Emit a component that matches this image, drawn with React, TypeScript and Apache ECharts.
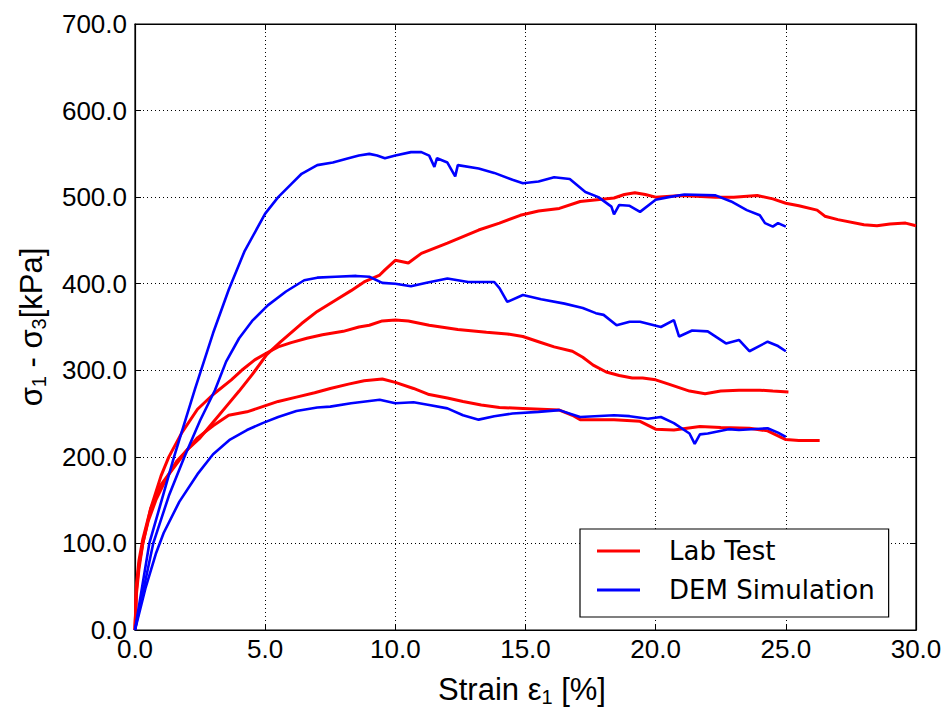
import React, { useEffect, useRef } from "react";
import * as echarts from "echarts";

const xTicks = [0, 5, 10, 15, 20, 25, 30];
const yTicks = [0, 100, 200, 300, 400, 500, 600, 700];
const seriesNames = ["Lab Test", "DEM Simulation"];

// Lab test curves [strain %, deviator stress kPa]
const labHigh: [number, number][] = [
  [0, 0], [0.05, 45], [0.15, 75], [0.3, 100], [0.5, 125], [0.8, 150], [1.2, 175], [1.6, 195],
  [2.0, 208], [2.5, 222], [3.0, 240], [3.5, 258], [4.0, 276], [4.5, 295], [5.06, 318], [5.6, 333],
  [6.4, 354], [7.0, 368], [7.7, 381], [8.3, 392], [8.8, 402], [9.4, 410], [9.6, 416],
  [10.0, 427], [10.5, 424], [11.0, 435], [12.0, 447], [13.2, 462], [14.0, 470], [14.8, 479],
  [15.5, 484], [16.3, 487], [17.1, 495], [18.4, 499], [18.8, 503], [19.2, 505], [19.6, 503],
  [20.0, 500], [21.0, 502], [22.3, 500], [23.0, 500], [23.9, 502], [24.5, 498], [25.0, 493],
  [25.5, 490], [26.2, 485], [26.5, 478], [27.0, 474], [28.0, 468], [28.5, 467], [29.0, 469],
  [29.6, 470], [30.0, 467],
];
const labMid: [number, number][] = [
  [0, 0], [0.05, 50], [0.15, 80], [0.3, 105], [0.6, 140], [1.0, 178], [1.3, 200], [1.8, 228],
  [2.4, 255], [3.0, 272], [3.7, 289], [4.1, 300], [4.6, 312], [5.06, 320], [5.5, 327], [6.0, 332],
  [6.6, 337], [7.2, 341], [8.0, 345], [8.6, 350], [9.0, 352], [9.5, 357], [10.0, 358], [10.5, 357],
  [11.3, 352], [12.4, 347], [13.5, 344], [14.3, 342], [14.9, 339], [15.5, 333], [16.1, 327],
  [16.8, 322], [17.2, 315], [17.6, 306], [18.1, 298], [18.6, 294], [19.1, 291], [19.5, 291],
  [20.0, 289], [20.5, 284], [21.3, 276], [21.9, 273], [22.5, 276], [23.2, 277], [24.0, 277],
  [24.5, 276], [25.1, 275],
];
const labLow: [number, number][] = [
  [0, 0], [0.05, 40], [0.15, 70], [0.3, 100], [0.6, 140], [1.0, 168], [1.5, 188], [2.0, 208],
  [2.4, 222], [3.0, 236], [3.6, 248], [4.3, 252], [4.9, 258], [5.5, 264], [6.2, 269], [6.9, 274],
  [7.5, 279], [8.2, 284], [8.8, 288], [9.5, 290], [10.0, 286], [10.7, 279], [11.3, 272], [12.0, 268],
  [12.6, 264], [13.3, 260], [14.0, 257], [14.9, 256], [15.6, 255], [16.3, 254], [16.8, 248],
  [17.1, 243], [18.4, 243], [19.4, 241], [20.0, 232], [20.7, 231], [21.7, 235], [22.5, 234],
  [23.6, 233], [24.3, 230], [25.0, 220], [25.5, 219], [26.3, 219],
];

// DEM simulation curves [strain %, deviator stress kPa]
const demHigh: [number, number][] = [
  [0, 0], [0.55, 100], [1.5, 200], [2.3, 278], [3.0, 343], [3.6, 393], [4.2, 437],
  [5.0, 481], [5.5, 500], [6.0, 515], [6.4, 527], [7.0, 537], [7.6, 540], [8.2, 545], [8.6, 548],
  [9.0, 550], [9.3, 548], [9.6, 545], [10.0, 548], [10.6, 552], [11.0, 552], [11.3, 548],
  [11.5, 535], [11.6, 545], [12.0, 540], [12.3, 524], [12.4, 537], [13.2, 533], [13.8, 528],
  [14.5, 520], [14.9, 516], [15.5, 518], [16.1, 523], [16.7, 521], [17.3, 506], [17.8, 500],
  [18.3, 489], [18.4, 480], [18.6, 491], [19.0, 490], [19.4, 483], [20.0, 497], [20.5, 500],
  [21.1, 503], [22.3, 502], [22.9, 495], [23.5, 485], [24.0, 479], [24.2, 470], [24.5, 466],
  [24.7, 470], [25.0, 466],
];
const demMid: [number, number][] = [
  [0, 0], [0.7, 100], [1.3, 155], [1.9, 200], [2.5, 242], [3.07, 277], [3.5, 310], [4.0, 337],
  [4.5, 357], [5.1, 375], [5.8, 391], [6.5, 404], [7.0, 407], [7.7, 408], [8.5, 409], [9.0, 408],
  [9.5, 401], [10.0, 400], [10.6, 397], [11.2, 401], [12.0, 406], [12.8, 402], [13.8, 402],
  [14.0, 395], [14.3, 379], [14.9, 387], [15.6, 382], [16.5, 377], [17.2, 372], [17.7, 366],
  [18.0, 364], [18.5, 352], [19.0, 356], [19.4, 356], [20.2, 350], [20.7, 358], [20.9, 339],
  [21.4, 346], [22.0, 345], [22.7, 331], [23.2, 335], [23.6, 322], [24.3, 333], [24.7, 328],
  [25.0, 322],
];
const demLow: [number, number][] = [
  [0, 0], [0.4, 48], [0.8, 88], [1.1, 112], [1.7, 148], [2.4, 180], [3.0, 203], [3.65, 220],
  [4.3, 231], [4.9, 239], [5.5, 246], [6.2, 253], [7.0, 257], [7.5, 258], [8.3, 262], [9.4, 266],
  [10.0, 262], [10.7, 263], [11.3, 260], [12.0, 256], [12.6, 248], [13.2, 243], [13.8, 247],
  [14.5, 250], [15.5, 252], [16.3, 254], [16.8, 249], [17.1, 246], [18.4, 248], [19.0, 247],
  [19.7, 244], [20.2, 246], [20.7, 239], [21.3, 227], [21.5, 215], [21.7, 226], [22.0, 227],
  [22.8, 232], [23.2, 231], [24.3, 233], [24.7, 228], [25.0, 223],
];

const RED = "#ff0000";
const BLUE = "#0000ff";
const TICK_FONT = "'Liberation Sans', Arial, sans-serif";
const LEGEND_FONT = "'DejaVu Sans', sans-serif";

export default function App() {
  const ref = useRef<HTMLDivElement>(null);

  useEffect(() => {
    if (!ref.current) return;
    const chart = echarts.init(ref.current, undefined, { renderer: "svg" });

    const mkLine = (name: string, data: [number, number][], color: string, width: number) => ({
      name,
      type: "line",
      data,
      symbol: "none",
      showSymbol: false,
      smooth: false,
      xAxisIndex: 0,
      yAxisIndex: 0,
      lineStyle: { color, width },
      itemStyle: { color },
      emphasis: { disabled: true },
    });

    const baseX = {
      type: "value",
      min: xTicks[0],
      max: xTicks[xTicks.length - 1],
      interval: 5,
    };
    const baseY = {
      type: "value",
      min: yTicks[0],
      max: yTicks[yTicks.length - 1],
      interval: 100,
    };

    const option: any = {
      animation: false,
      backgroundColor: "#ffffff",
      grid: {
        left: 135,
        top: 24,
        right: 29,
        bottom: 81,
        containLabel: false,
        show: true,
        borderColor: "#000",
        borderWidth: 1.2,
        backgroundColor: "transparent",
      },
      xAxis: [
        {
          ...baseX,
          position: "bottom",
          axisLine: { show: true, onZero: false, lineStyle: { color: "#000", width: 1.2 } },
          axisTick: { show: true, inside: true, length: 6, lineStyle: { color: "#000" } },
          axisLabel: {
            show: true,
            margin: 6,
            color: "#000",
            fontSize: 26,
            fontFamily: TICK_FONT,
            formatter: (v: number) => v.toFixed(1),
          },
          splitLine: { show: true, lineStyle: { color: "#000", width: 1, type: [1, 3] } },
        },
        {
          ...baseX,
          position: "top",
          axisLine: { show: true, onZero: false, lineStyle: { color: "#000", width: 1.2 } },
          axisTick: { show: true, inside: true, length: 6, lineStyle: { color: "#000" } },
          axisLabel: { show: false },
          splitLine: { show: false },
        },
      ],
      yAxis: [
        {
          ...baseY,
          position: "left",
          axisLine: { show: true, onZero: false, lineStyle: { color: "#000", width: 1.2 } },
          axisTick: { show: true, inside: true, length: 6, lineStyle: { color: "#000" } },
          axisLabel: {
            show: true,
            margin: 8,
            color: "#000",
            fontSize: 26,
            fontFamily: TICK_FONT,
            formatter: (v: number) => v.toFixed(1),
          },
          splitLine: { show: true, lineStyle: { color: "#000", width: 1, type: [1, 3] } },
        },
        {
          ...baseY,
          position: "right",
          axisLine: { show: true, onZero: false, lineStyle: { color: "#000", width: 1.2 } },
          axisTick: { show: true, inside: true, length: 6, lineStyle: { color: "#000" } },
          axisLabel: { show: false },
          splitLine: { show: false },
        },
      ],
      legend: {
        show: true,
        data: seriesNames,
        orient: "vertical",
        left: 580,
        top: 529,
        padding: [7, 14, 12, 17],
        itemGap: 9,
        icon: "rect",
        itemWidth: 43,
        itemHeight: 3,
        backgroundColor: "#fff",
        borderColor: "#000",
        borderWidth: 1.2,
        borderRadius: 0,
        selectedMode: false,
        textStyle: {
          color: "#000",
          fontSize: 26,
          fontFamily: LEGEND_FONT,
          lineHeight: 30,
          padding: [0, 0, 0, 24],
        },
      },
      series: [
        mkLine(seriesNames[0], labHigh, RED, 3),
        mkLine(seriesNames[0], labMid, RED, 3),
        mkLine(seriesNames[0], labLow, RED, 3),
        mkLine(seriesNames[1], demHigh, BLUE, 2.6),
        mkLine(seriesNames[1], demMid, BLUE, 2.6),
        mkLine(seriesNames[1], demLow, BLUE, 2.6),
      ],
      graphic: [
        {
          type: "text",
          x: 522,
          y: 689,
          silent: true,
          style: {
            text: "{n|Strain ε}{s|1}{n| [%]}",
            align: "center",
            verticalAlign: "middle",
            textAlign: "center",
            textVerticalAlign: "middle",
            fill: "#000",
            rich: {
              n: { fontSize: 31, fontFamily: TICK_FONT, color: "#000", lineHeight: 36 },
              s: { fontSize: 20, fontFamily: TICK_FONT, color: "#000", lineHeight: 20, verticalAlign: "bottom" },
            },
          },
        },
        {
          type: "text",
          x: 31,
          y: 327,
          rotation: Math.PI / 2,
          silent: true,
          style: {
            text: "{n|σ}{s|1}{n| - σ}{s|3}{n|[kPa]}",
            align: "center",
            verticalAlign: "middle",
            textAlign: "center",
            textVerticalAlign: "middle",
            fill: "#000",
            rich: {
              n: { fontSize: 31, fontFamily: TICK_FONT, color: "#000", lineHeight: 36 },
              s: { fontSize: 20, fontFamily: TICK_FONT, color: "#000", lineHeight: 20, verticalAlign: "bottom" },
            },
          },
        },
      ],
    };

    chart.setOption(option);
    return () => chart.dispose();
  }, []);

  return (
    <div
      ref={ref}
      style={{ position: "fixed", left: 0, top: 0, width: 945, height: 711, background: "#fff" }}
    />
  );
}
